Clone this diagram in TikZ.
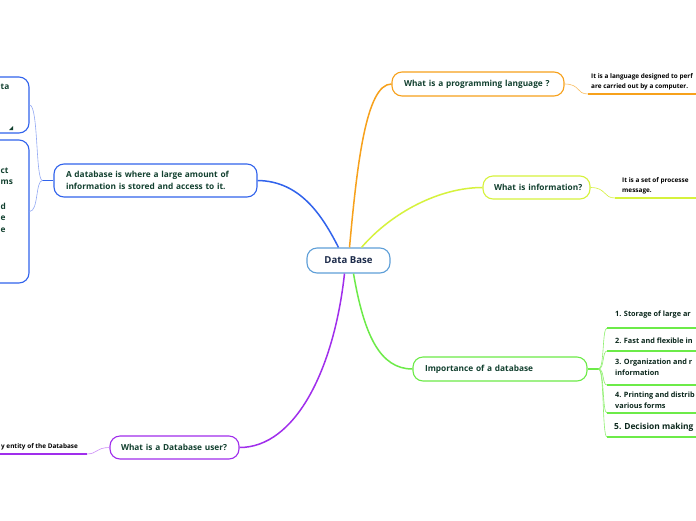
\documentclass[tikz,border=0pt]{standalone}
\usepackage{fontspec}
\setmainfont{Open Sans}
\usetikzlibrary{calc}
\definecolor{txt}{HTML}{12402F}
\definecolor{navy}{HTML}{1C2B4A}
\definecolor{dbb}{HTML}{5E9FD8}
\definecolor{bl}{HTML}{3163EC}
\definecolor{lbl}{HTML}{93A9F4}
\definecolor{org}{HTML}{F7A11B}
\definecolor{ylw}{HTML}{D6F23C}
\definecolor{grn}{HTML}{6CEB48}
\definecolor{lgrn}{HTML}{8EF06E}
\definecolor{prp}{HTML}{A02EEC}
\definecolor{lprp}{HTML}{CC8CF7}
\begin{document}
\begin{tikzpicture}[x=1pt,y=-1pt,
  topic/.style={draw, line width=1.1pt, rounded corners=10pt, fill=white, inner xsep=12pt, inner ysep=0pt,
    font=\bfseries\fontsize{8.3}{12}\selectfont, text=txt, align=left},
  detail/.style={inner sep=0pt, font=\bfseries\fontsize{6.4}{10}\selectfont, text=black, align=left},
  item/.style={inner sep=0pt, font=\bfseries\fontsize{7.3}{11}\selectfont, text=txt!60!black, align=left},
  frag/.style={inner sep=0pt, font=\bfseries\fontsize{8.3}{11}\selectfont, text=txt},
  mainlink/.style={line width=1.5pt},
  sublink/.style={line width=0.6pt}]
\clip (0,0) rectangle (696,520);
\fill[white] (0,0) rectangle (696,520);

% central node
\node[topic, draw=dbb, minimum width=83pt, minimum height=25pt, inner xsep=0pt, align=center,
  font=\bfseries\fontsize{9.6}{11}\selectfont, text=navy] (db) at (348.5,260.5) {Data Base};

% topics
\node[topic, draw=org, minimum height=24pt, text width=148pt] (prog) at (478,84) {\hbox{What is a programming language ?}};
\node[topic, draw=ylw, minimum height=23pt, text width=85pt, inner xsep=11pt] (info) at (536.5,187.5) {\hbox{What is information?}};
\node[topic, draw=grn, minimum height=24pt, text width=150pt] (imp) at (500,369) {\hbox{Importance of a database}};
\node[topic, draw=bl, minimum height=33pt, text width=179pt] (where) at (155.5,180.5) {A database is where a large amount of\\information is stored and access to it.};
\node[topic, draw=prp, minimum height=23pt, text width=107pt, inner xsep=11pt] (user) at (174.5,447.5) {\hbox{What is a Database user?}};

% main connectors
\draw[mainlink, bl] ($(db.north)+(-10,0)$) .. controls (322,215) and (300,181) .. (where.east);
\draw[mainlink, org] ($(db.north)+(1,0)$) .. controls (357,165) and (366,84) .. (prog.west);
\draw[mainlink, ylw] ($(db.north)+(13,0)$) .. controls (392,212) and (440,187.5) .. (info.west);
\draw[mainlink, grn] ($(db.south)+(5,0)$) .. controls (364,335) and (380,369) .. (imp.west);
\draw[mainlink, prp] ($(db.south)+(-4,0)$) .. controls (334,370) and (295,447.5) .. (user.east);

% programming detail
\node[detail, anchor=west] (progd) at (591,82) {It is a language designed to perf\\are carried out by a computer.};
\coordinate (pu) at (588,94);
\draw[sublink, org!70] (prog.east) .. controls +(16,0) and +(-12,0) .. (pu);
\draw[line width=1.4pt, org] (pu) -- ++(120,0);

% information detail
\node[detail, anchor=west] (infod) at (622,186) {It is a set of processe\\message.};
\coordinate (iu) at (615,198);
\draw[sublink, ylw] (info.east) .. controls +(16,0) and +(-12,0) .. (iu);
\draw[line width=1.4pt, ylw] (iu) -- ++(120,0);

% importance items
\coordinate (gf) at ($(imp.east)+(11,0)$);
\draw[line width=1.4pt, grn] (imp.east) -- (gf);
\node[item, anchor=west] (i1) at (615,315) {1. Storage of large ar};
\node[item, anchor=west] (i2) at (615,341) {2. Fast and flexible in};
\node[item, anchor=west] (i3) at (615,367.5) {3. Organization and r\\information};
\node[item, anchor=west] (i4) at (615,400.5) {4. Printing and distrib\\various forms};
\node[item, anchor=west, font=\bfseries\fontsize{8.4}{10}\selectfont] (i5) at (614,427) {5. Decision making};
\foreach \n/\y in {1/328,2/351,3/385,4/413,5/437}{
  \coordinate (u\n) at (607,\y);
  \draw[sublink, lgrn] (gf) .. controls +(6,0) and +(-5,0) .. (u\n);
  \draw[line width=1.3pt, grn] (u\n) -- ++(100,0);
}

% left boxes
\node[draw=bl, line width=1.1pt, rounded corners=10pt, minimum width=60pt, minimum height=56pt, inner sep=0pt] (lb1) at (-1,105) {};
\node[draw=bl, line width=1.1pt, rounded corners=10pt, minimum width=60pt, minimum height=143pt, inner sep=0pt] (lb2) at (-1,211.5) {};
\node[frag, anchor=west] (f1) at (0.5,87) {ta};
\fill[txt] (9,130) -- (13,130) -- (13,126) -- cycle;
\node[frag, anchor=west] (f2) at (0.5,170.5) {ct};
\node[frag, anchor=west] (f3) at (0.5,182.5) {ms};
\node[frag, anchor=west] (f4) at (0.5,206) {d};
\node[frag, anchor=west] (f5) at (0.5,218) {e};
\node[frag, anchor=west] (f6) at (0.5,230) {e};
\coordinate (bf) at ($(where.west)+(-11,0)$);
\draw[line width=1.2pt, bl] (where.west) -- (bf);
\draw[sublink, lbl] (bf) .. controls +(-7,0) and +(9,0) .. (lb1.east);
\draw[sublink, lbl] (bf) .. controls +(-7,0) and +(9,0) .. (lb2.east);

% user detail
\node[detail, anchor=west] (userd) at (1,446.5) {y entity of the Database};
\coordinate (ud) at (87,454);
\draw[sublink, lprp] (user.west) .. controls +(-13,0) and +(10,0) .. (ud);
\draw[line width=1.3pt, prp] (ud) -- (-5,454);
\end{tikzpicture}
\end{document}
